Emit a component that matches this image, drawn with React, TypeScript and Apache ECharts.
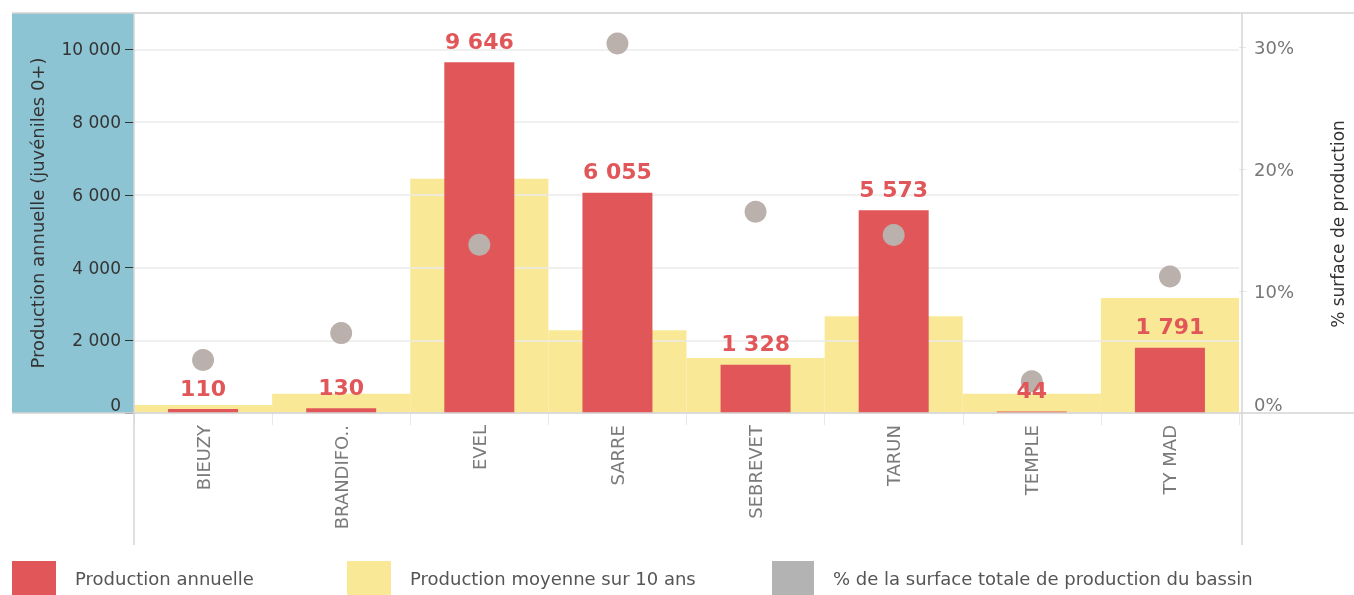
import React, { useEffect, useRef } from "react";
import * as echarts from "echarts";

const categories = ["BIEUZY", "BRANDIFO..", "EVEL", "SARRE", "SEBREVET", "TARUN", "TEMPLE", "TY MAD"];
const annualProduction = [110, 130, 9646, 6055, 1328, 5573, 44, 1791];
const averageProduction10y = [219, 529, 6440, 2275, 1515, 2660, 529, 3160];
const surfaceSharePct = [4.35, 6.55, 13.8, 30.3, 16.5, 14.6, 2.6, 11.2];

const seriesNames = [
  "Production annuelle",
  "Production moyenne sur 10 ans",
  "% de la surface totale de production du bassin",
];

const RED = "#e15759";
const YELLOW = "#f9e896";
const GREY = "#bab0ac";
const BLUE = "#8dc4d3";
const FONT = "DejaVu Sans";

const fmtThousands = (v: number) => String(v).replace(/\B(?=(\d{3})+(?!\d))/g, " ");

export default function App() {
  const ref = useRef<HTMLDivElement>(null);
  useEffect(() => {
    if (!ref.current) return;
    const chart = echarts.init(ref.current, undefined, { renderer: "svg" });
    const W = 1354;
    const left = 134, right = 1242, top = 13, bottom = 413;
    const lineColor = "#d4d4d4";
    const legendText = { fontSize: 18, color: "#555", padding: [0, 0, 0, 14], fontFamily: FONT };
    chart.setOption({
      animation: false,
      textStyle: { fontFamily: FONT },
      grid: { left, right: W - right, top, bottom: 595 - bottom },
      graphic: {
        elements: [
          { type: "rect", shape: { x: 12, y: top, width: left - 12, height: bottom - top }, style: { fill: BLUE }, z: 0, silent: true },
          { type: "line", shape: { x1: 12, y1: top, x2: W, y2: top }, style: { stroke: lineColor, lineWidth: 1.5 }, z: 10, silent: true },
          { type: "line", shape: { x1: 12, y1: bottom, x2: W, y2: bottom }, style: { stroke: lineColor, lineWidth: 1.5 }, z: 10, silent: true },
          { type: "line", shape: { x1: left, y1: top, x2: left, y2: 545 }, style: { stroke: lineColor, lineWidth: 1.5 }, z: 10, silent: true },
          { type: "line", shape: { x1: right, y1: top, x2: right, y2: 545 }, style: { stroke: lineColor, lineWidth: 1.5 }, z: 10, silent: true },
        ],
      },
      legend: [
        {
          left: 12, top: 561, padding: 0, itemWidth: 44, itemHeight: 34, icon: "rect",
          data: [{ name: seriesNames[0], itemStyle: { color: RED } }],
          textStyle: legendText,
        },
        {
          left: 347, top: 561, padding: 0, itemWidth: 44, itemHeight: 34, icon: "rect",
          data: [{ name: seriesNames[1], itemStyle: { color: YELLOW } }],
          textStyle: legendText,
        },
        {
          left: 772, top: 561, padding: 0, itemWidth: 42, itemHeight: 34, icon: "rect",
          data: [{ name: seriesNames[2], itemStyle: { color: "#b3b3b3" } }],
          textStyle: legendText,
        },
      ],
      xAxis: [
        {
          type: "category",
          data: categories,
          axisLine: { show: false },
          axisTick: { show: true, interval: 0, length: 12, lineStyle: { color: "#e8e8e8" } },
          axisLabel: { rotate: 90, margin: 12, fontSize: 18, color: "#7a7a7a", interval: 0, fontFamily: FONT },
          z: 1.5,
        },
        { type: "category", data: categories, show: false },
        { type: "category", data: categories, show: false },
      ],
      yAxis: [
        {
          type: "value",
          min: 0,
          max: 11000,
          interval: 2000,
          position: "left",
          name: "Production annuelle (juvéniles 0+)",
          nameLocation: "middle",
          nameRotate: 90,
          nameGap: 88,
          nameTextStyle: { fontSize: 18, color: "#333", fontFamily: FONT },
          axisLine: { show: false },
          axisTick: { show: true, length: 9, lineStyle: { color: "#333" } },
          axisLabel: {
            margin: 13, fontSize: 17, color: "#333", showMaxLabel: false,
            verticalAlignMinLabel: "bottom", fontFamily: FONT,
            formatter: (v: number) => fmtThousands(v),
          },
          splitLine: { show: true, lineStyle: { color: "#ebebeb", width: 1.5 } },
          z: 1.5,
        },
        {
          type: "value",
          min: 0,
          max: 32.8,
          interval: 10,
          position: "right",
          name: "% surface de production",
          nameLocation: "middle",
          nameRotate: 90,
          nameGap: 90,
          nameTextStyle: { fontSize: 17, color: "#333", fontFamily: FONT, padding: [0, 22, 0, 0] },
          axisLine: { show: false },
          axisTick: { show: true, length: 7, lineStyle: { color: "#e6e6e6" } },
          axisLabel: {
            margin: 15, fontSize: 18, color: "#777", showMaxLabel: false,
            verticalAlignMinLabel: "bottom", fontFamily: FONT,
            formatter: (v: number) => `${v}%`,
          },
          splitLine: { show: false },
          z: 1.5,
        },
      ],
      series: [
        {
          name: seriesNames[1],
          type: "bar",
          xAxisIndex: 1,
          yAxisIndex: 0,
          data: averageProduction10y,
          barWidth: "100%",
          itemStyle: { color: YELLOW },
          z: 1,
        },
        {
          name: seriesNames[0],
          type: "bar",
          xAxisIndex: 0,
          yAxisIndex: 0,
          data: annualProduction,
          barWidth: 70,
          itemStyle: { color: RED },
          z: 2,
        },
        {
          name: seriesNames[2],
          type: "scatter",
          xAxisIndex: 0,
          yAxisIndex: 1,
          data: surfaceSharePct,
          symbolSize: 22,
          itemStyle: { color: GREY, opacity: 1 },
          z: 3,
        },
        {
          name: "labels",
          type: "bar",
          xAxisIndex: 2,
          yAxisIndex: 0,
          data: annualProduction,
          barWidth: 70,
          silent: true,
          itemStyle: { color: "rgba(0,0,0,0)" },
          label: {
            show: true,
            position: "top",
            distance: 10,
            fontSize: 22,
            fontWeight: "bold",
            color: RED,
            fontFamily: FONT,
            formatter: (p: any) => fmtThousands(p.value),
          },
          z: 4,
        },
      ],
    });
    return () => chart.dispose();
  }, []);
  return <div ref={ref} style={{ position: "fixed", left: 0, top: 0, width: 1354, height: 595 }} />;
}
